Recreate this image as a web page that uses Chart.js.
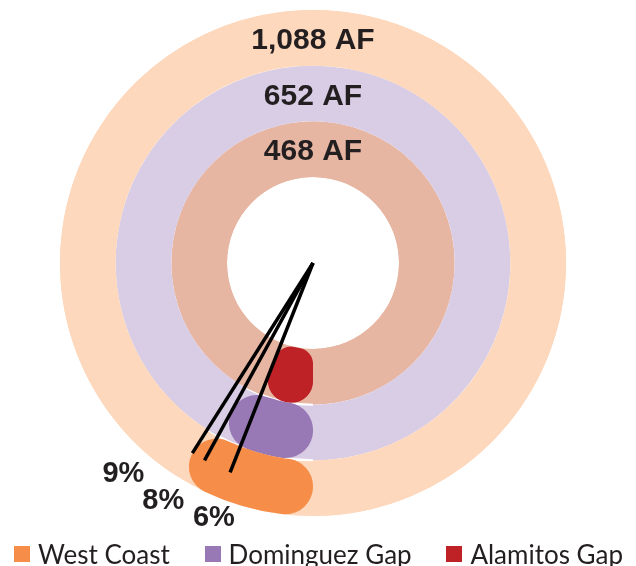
<!DOCTYPE html>
<html>
<head>
<meta charset="utf-8">
<script src="https://cdn.jsdelivr.net/npm/chart.js@4"></script>
<style>
  html, body { margin: 0; padding: 0; background: #fff; }
  #wrap { position: relative; width: 636px; height: 566px; }
  #chartBox { position: absolute; left: 0; top: 0; width: 636px; height: 566px; }
  #legend {
    position: absolute; left: 14px; right: 13px; top: 538px; height: 32px;
    display: flex; justify-content: space-between; align-items: center;
    font-family: Lato, "Open Sans", sans-serif; font-size: 26px; color: #231F20;
  }
  #legend .item { display: flex; align-items: center; white-space: nowrap; }
  #legend .swatch { width: 16px; height: 16px; margin-right: 8px; }
</style>
</head>
<body>
<div id="wrap">
  <div id="chartBox"><canvas id="chart"></canvas></div>
  <div id="legend"></div>
</div>
<script>
// --- data ---
const basins = ['West Coast', 'Dominguez Gap', 'Alamitos Gap'];
const totalsAF = [1088, 652, 468];
const shares = [9, 8, 6];

// --- styles ---
const sliceColors = ['#F68D48', '#9879B5', '#BE2227'];
const ringColors = ['#FDD8BC', '#D8CDE5', '#E7B6A2'];
const inkColor = '#231F20';
const pctNudgeDeg = [9.5, 3.4, -0.4];
const pctRadiusPad = [31, 28, 21];

// full ring underlay + white ring separators, then leader lines and labels
const ringBackdrop = {
  id: 'ringBackdrop',
  beforeDatasetsDraw(chart) {
    const ctx = chart.ctx;
    ctx.save();
    chart.data.datasets.forEach((ds, i) => {
      const arc = chart.getDatasetMeta(i).data[0];
      ctx.beginPath();
      ctx.arc(arc.x, arc.y, arc.outerRadius, 0, Math.PI * 2);
      ctx.arc(arc.x, arc.y, arc.innerRadius, 0, Math.PI * 2, true);
      ctx.fillStyle = ringColors[i];
      ctx.fill();
    });
    ctx.strokeStyle = '#fff';
    ctx.lineWidth = 2;
    chart.data.datasets.forEach((ds, i) => {
      if (i === 0) return;
      const arc = chart.getDatasetMeta(i).data[0];
      ctx.beginPath();
      ctx.arc(arc.x, arc.y, arc.outerRadius, 0, Math.PI * 2);
      ctx.stroke();
    });
    ctx.restore();
  },
  afterDatasetsDraw(chart) {
    const ctx = chart.ctx;
    const outerArc = chart.getDatasetMeta(0).data[0];
    const lineR = (outerArc.innerRadius + outerArc.outerRadius) / 2;
    ctx.save();
    ctx.strokeStyle = '#000';
    ctx.lineWidth = 3.5;
    chart.data.datasets.forEach((ds, i) => {
      const arc = chart.getDatasetMeta(i).data[0];
      ctx.beginPath();
      ctx.moveTo(arc.x, arc.y);
      ctx.lineTo(arc.x + lineR * Math.cos(arc.endAngle), arc.y + lineR * Math.sin(arc.endAngle));
      ctx.stroke();
    });
    ctx.fillStyle = inkColor;
    ctx.textAlign = 'center';
    ctx.textBaseline = 'middle';
    ctx.font = 'bold 29px "Liberation Sans", Arial, sans-serif';
    chart.data.datasets.forEach((ds, i) => {
      const arc = chart.getDatasetMeta(i).data[0];
      const a = arc.endAngle + pctNudgeDeg[i] * Math.PI / 180;
      const r = outerArc.outerRadius + pctRadiusPad[i];
      ctx.fillText(shares[i] + '%', arc.x + r * Math.cos(a), arc.y + r * Math.sin(a));
    });
    ctx.font = 'bold 30px "Liberation Sans", Arial, sans-serif';
    chart.data.datasets.forEach((ds, i) => {
      const arc = chart.getDatasetMeta(i).data[0];
      const mid = (arc.innerRadius + arc.outerRadius) / 2;
      ctx.fillText(totalsAF[i].toLocaleString('en-US') + ' AF', arc.x, arc.y - mid + 3);
    });
    ctx.restore();
  }
};

new Chart(document.getElementById('chart'), {
  type: 'doughnut',
  data: {
    labels: ['Share', 'Rest'],
    datasets: basins.map((name, i) => ({
      label: name,
      data: [shares[i], 100 - shares[i]],
      backgroundColor: [sliceColors[i], ringColors[i]],
      borderWidth: 0,
      borderRadius: [28, 0]
    }))
  },
  options: {
    responsive: true,
    maintainAspectRatio: false,
    animation: false,
    events: [],
    rotation: 180,
    cutout: '34%',
    layout: { padding: { top: 10, right: 10, left: 0, bottom: 50 } },
    plugins: {
      tooltip: { enabled: false },
      legend: { display: false }
    }
  },
  plugins: [ringBackdrop]
});

// legend
document.getElementById('legend').innerHTML = basins.map((name, i) =>
  `<div class="item"><span class="swatch" style="background:${sliceColors[i]}"></span>${name}</div>`
).join('');
</script>
</body>
</html>
